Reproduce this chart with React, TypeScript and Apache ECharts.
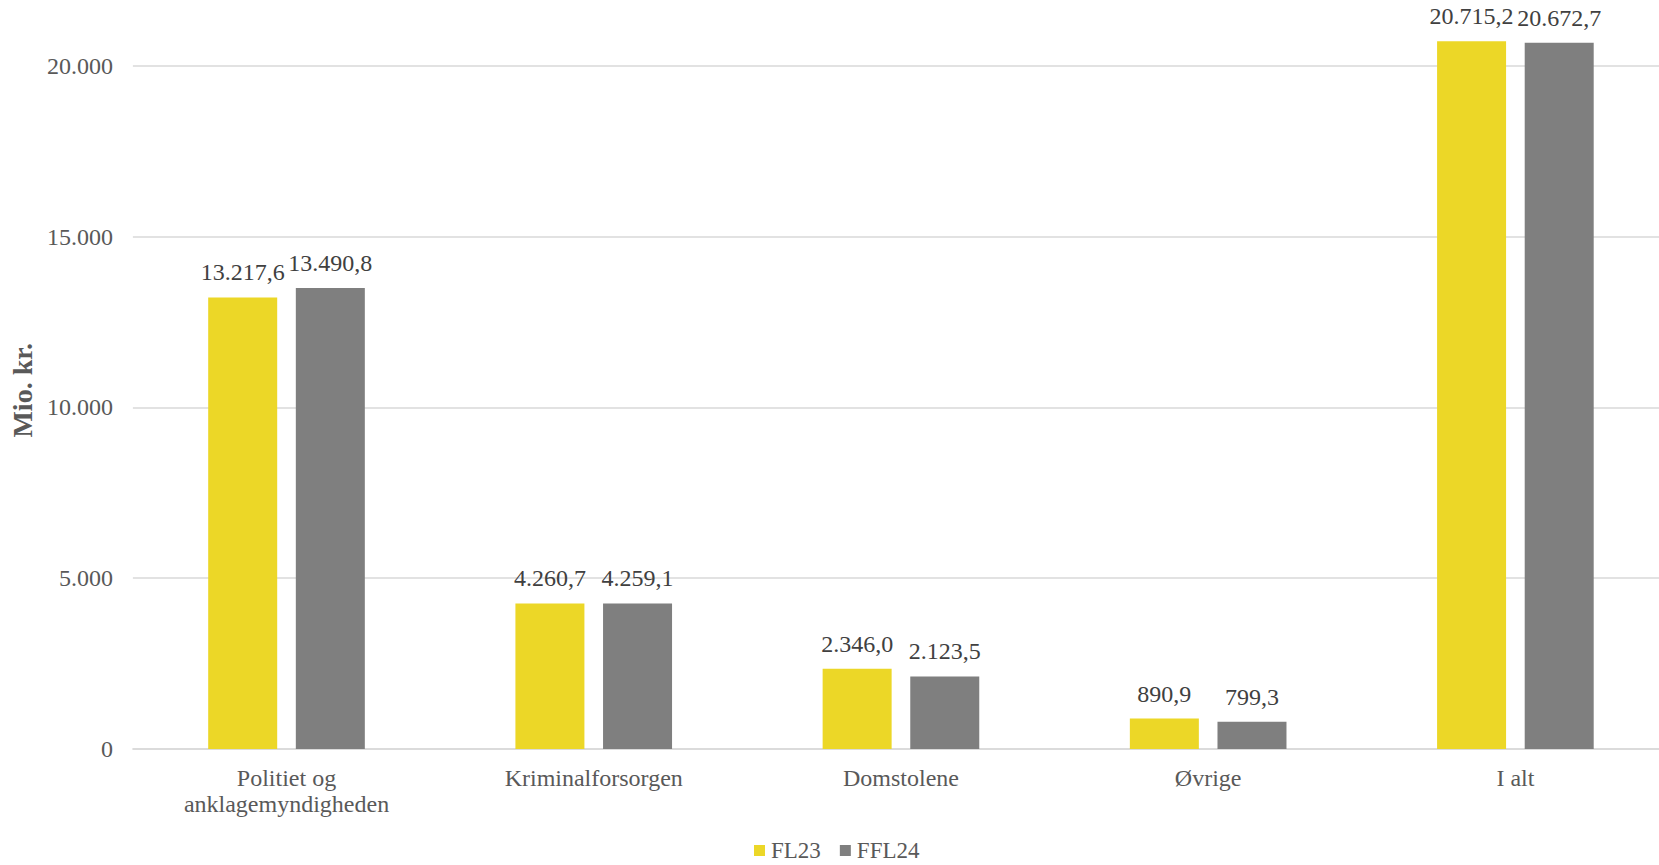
import React, { useEffect, useRef } from "react";
import * as echarts from "echarts";

const categories = ["Politiet og\nanklagemyndigheden", "Kriminalforsorgen", "Domstolene", "Øvrige", "I alt"];
const fl23 = [13217.6, 4260.7, 2346.0, 890.9, 20715.2];
const ffl24 = [13490.8, 4259.1, 2123.5, 799.3, 20672.7];
const seriesNames = ["FL23", "FFL24"];
const yTicks = { min: 0, max: 21000, interval: 5000 };

const FONT = "'Liberation Serif', 'Times New Roman', serif";

function fmtThousands(n: number): string {
  const s = Math.round(n).toString();
  return s.replace(/\B(?=(\d{3})+(?!\d))/g, ".");
}
function fmtValue(n: number): string {
  const fixed = n.toFixed(1);
  const [i, d] = fixed.split(".");
  return fmtThousands(Number(i)) + "," + d;
}

export default function App() {
  const ref = useRef<HTMLDivElement>(null);
  useEffect(() => {
    document.body.style.margin = "0";
    document.body.style.overflow = "hidden";
    const chart = echarts.init(ref.current!, null, { renderer: "svg" });
    const label = {
      show: true,
      position: "top",
      distance: 13,
      fontFamily: FONT,
      fontSize: 24,
      color: "#404040",
      formatter: (p: any) => fmtValue(p.value),
    };
    chart.setOption({
      animation: false,
      backgroundColor: "#ffffff",
      textStyle: { fontFamily: FONT },
      grid: { left: 130, right: 0, top: 31.5, bottom: 116, containLabel: false },
      legend: {
        data: seriesNames,
        left: 749,
        top: 834,
        itemWidth: 11,
        itemHeight: 11,
        itemGap: 19,
        icon: "rect",
        textStyle: { fontFamily: FONT, fontSize: 23, color: "#595959", padding: [0, 0, 0, 1] },
      },
      xAxis: {
        type: "category",
        data: categories,
        axisLine: { show: true, lineStyle: { color: "#D9D9D9", width: 1.5 } },
        axisTick: { show: false },
        axisLabel: {
          fontFamily: FONT,
          fontSize: 24,
          color: "#595959",
          margin: 16,
          lineHeight: 26,
          interval: 0,
        },
      },
      yAxis: {
        type: "value",
        min: yTicks.min,
        max: yTicks.max,
        interval: yTicks.interval,
        name: "Mio. kr.",
        nameLocation: "middle",
        nameGap: 94,
        nameTextStyle: { fontFamily: FONT, fontSize: 28, fontWeight: "bold", color: "#595959" },
        axisLine: { show: false },
        axisTick: { show: false },
        splitLine: { show: true, showMaxLine: false, lineStyle: { color: "#D9D9D9", width: 1.5 } },
        axisLabel: {
          fontFamily: FONT,
          fontSize: 24,
          color: "#595959",
          margin: 20,
          showMaxLabel: false,
          formatter: (v: number) => fmtThousands(v),
        },
      },
      series: [
        {
          name: seriesNames[0],
          type: "bar",
          data: fl23,
          barWidth: 69,
          barGap: "27%",
          itemStyle: { color: "#ECD727" },
          label,
        },
        {
          name: seriesNames[1],
          type: "bar",
          data: ffl24,
          barWidth: 69,
          barGap: "27%",
          itemStyle: { color: "#7F7F7F" },
          label,
        },
      ],
    });
    return () => chart.dispose();
  }, []);
  return (
    <div style={{ position: "fixed", left: 0, top: 0, width: 1659, height: 865, overflow: "hidden", background: "#fff" }}>
      <div ref={ref} style={{ position: "absolute", left: 0, top: 0, width: 1669, height: 865 }} />
    </div>
  );
}
